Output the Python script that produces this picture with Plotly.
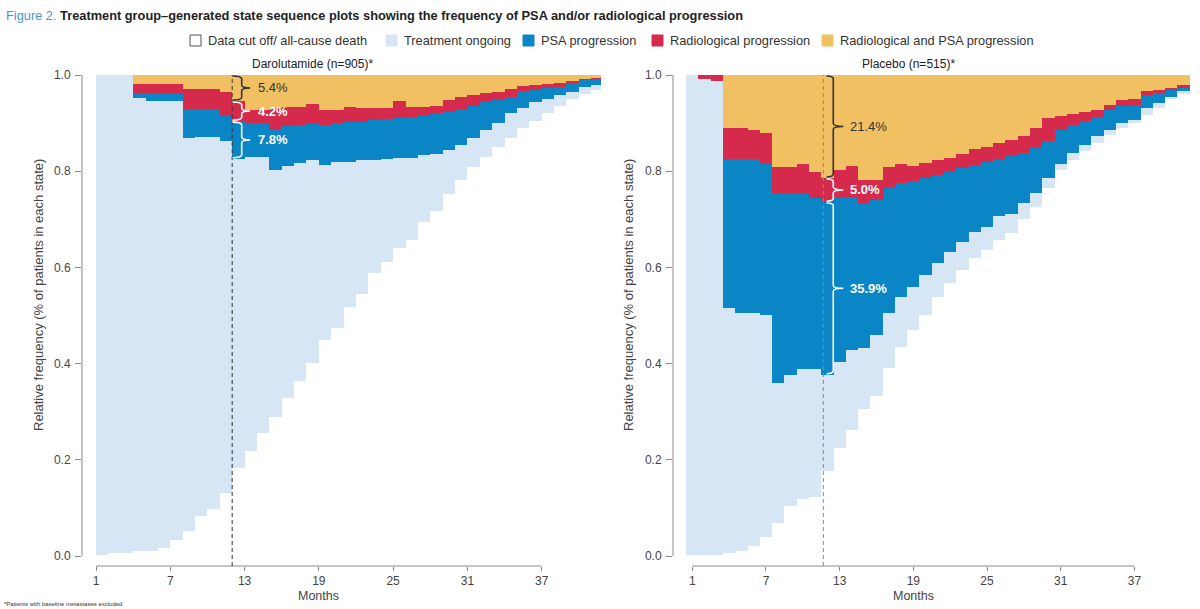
import plotly.graph_objects as go

# ---------------- data ----------------
months = list(range(1, 42))
state_names = ["Data cut off/ all-cause death", "Treatment ongoing", "PSA progression",
               "Radiological progression", "Radiological and PSA progression"]
state_colors = ["#ffffff", "#d6e6f4", "#0a86c7", "#d62a4c", "#f1c063"]
tick_months = [1, 7, 13, 19, 25, 31, 37]
y_ticks = [0.0, 0.2, 0.4, 0.6, 0.8, 1.0]

# Darolutamide (n=905): share of patients in each state per month
dar_cutoff = [0.002, 0.006, 0.006, 0.011, 0.011, 0.016, 0.033, 0.052, 0.084, 0.098, 0.132, 0.184,
              0.219, 0.255, 0.290, 0.329, 0.364, 0.401, 0.449, 0.473, 0.518, 0.544, 0.589, 0.612,
              0.640, 0.658, 0.694, 0.718, 0.752, 0.782, 0.809, 0.830, 0.850, 0.870, 0.890, 0.905,
              0.920, 0.935, 0.950, 0.960, 0.968]
dar_ongoing = [0.998, 0.994, 0.994, 0.942, 0.935, 0.930, 0.913, 0.817, 0.788, 0.774, 0.731, 0.642,
               0.611, 0.575, 0.512, 0.482, 0.454, 0.422, 0.364, 0.347, 0.302, 0.279, 0.234, 0.213,
               0.187, 0.169, 0.140, 0.118, 0.093, 0.073, 0.061, 0.055, 0.050, 0.050, 0.042, 0.038,
               0.030, 0.023, 0.015, 0.015, 0.012]
dar_psa = [0.0, 0.0, 0.0, 0.007, 0.014, 0.014, 0.014, 0.060, 0.057, 0.057, 0.052, 0.078,
           0.070, 0.070, 0.084, 0.082, 0.078, 0.077, 0.083, 0.080, 0.083, 0.080, 0.083, 0.083,
           0.083, 0.085, 0.081, 0.084, 0.079, 0.074, 0.066, 0.059, 0.047, 0.035, 0.034, 0.026,
           0.022, 0.017, 0.020, 0.015, 0.012]
dar_radio = [0.0, 0.0, 0.0, 0.022, 0.022, 0.022, 0.022, 0.042, 0.042, 0.042, 0.050, 0.042,
             0.027, 0.027, 0.045, 0.041, 0.038, 0.040, 0.031, 0.027, 0.031, 0.028, 0.025, 0.023,
             0.035, 0.022, 0.019, 0.016, 0.025, 0.025, 0.022, 0.018, 0.018, 0.015, 0.012, 0.011,
             0.010, 0.009, 0.002, 0.001, 0.001]
dar_both = [0.0, 0.0, 0.0, 0.018, 0.018, 0.018, 0.018, 0.029, 0.029, 0.029, 0.035, 0.054,
            0.073, 0.073, 0.069, 0.066, 0.066, 0.060, 0.073, 0.073, 0.066, 0.069, 0.069, 0.069,
            0.055, 0.066, 0.066, 0.064, 0.051, 0.046, 0.042, 0.038, 0.035, 0.030, 0.022, 0.020,
            0.018, 0.016, 0.013, 0.009, 0.007]

# Placebo (n=515)
pla_cutoff = [0.002, 0.002, 0.002, 0.006, 0.011, 0.021, 0.040, 0.068, 0.104, 0.118, 0.123, 0.177,
              0.224, 0.262, 0.305, 0.333, 0.391, 0.435, 0.470, 0.501, 0.539, 0.567, 0.595, 0.619,
              0.636, 0.657, 0.671, 0.700, 0.725, 0.765, 0.803, 0.824, 0.841, 0.859, 0.876, 0.890,
              0.900, 0.917, 0.932, 0.952, 0.962]
pla_ongoing = [0.998, 0.990, 0.985, 0.509, 0.495, 0.485, 0.461, 0.292, 0.272, 0.270, 0.265, 0.200,
               0.180, 0.166, 0.127, 0.126, 0.114, 0.103, 0.089, 0.083, 0.071, 0.064, 0.058, 0.055,
               0.049, 0.050, 0.041, 0.033, 0.030, 0.021, 0.011, 0.014, 0.014, 0.014, 0.010, 0.010,
               0.007, 0.014, 0.010, 0.002, 0.004]
pla_psa = [0.0, 0.0, 0.0, 0.310, 0.319, 0.319, 0.314, 0.394, 0.378, 0.366, 0.356, 0.359,
           0.340, 0.319, 0.301, 0.281, 0.263, 0.237, 0.221, 0.201, 0.182, 0.168, 0.154, 0.139,
           0.135, 0.119, 0.119, 0.104, 0.093, 0.076, 0.072, 0.059, 0.049, 0.039, 0.042, 0.035,
           0.031, 0.027, 0.020, 0.015, 0.007]
pla_radio = [0.0, 0.008, 0.013, 0.064, 0.064, 0.061, 0.064, 0.055, 0.055, 0.061, 0.055, 0.050,
             0.058, 0.064, 0.049, 0.042, 0.040, 0.040, 0.031, 0.033, 0.031, 0.029, 0.029, 0.033,
             0.031, 0.032, 0.034, 0.036, 0.041, 0.048, 0.029, 0.022, 0.020, 0.016, 0.009, 0.012,
             0.012, 0.008, 0.006, 0.004, 0.006]
pla_both = [0.0, 0.0, 0.0, 0.111, 0.111, 0.114, 0.121, 0.191, 0.191, 0.185, 0.201, 0.214,
            0.198, 0.189, 0.218, 0.218, 0.192, 0.185, 0.189, 0.182, 0.177, 0.172, 0.164, 0.154,
            0.149, 0.142, 0.135, 0.127, 0.111, 0.090, 0.085, 0.081, 0.076, 0.072, 0.063, 0.053,
            0.050, 0.034, 0.032, 0.027, 0.021]

cut_month = 12
dar_cut_pct = [5.4, 4.2, 7.8]     # both, radiological, PSA at month 12
pla_cut_pct = [21.4, 5.0, 35.9]

# ---------------- figure ----------------
W, H = 1200, 609
FONT = "Liberation Sans, Arial, Helvetica, sans-serif"


def px(x):
    return x / W


def py(y):
    return 1 - y / H


fig = go.Figure()

panels = [
    dict(ax="x", ay="y", offset=0, series=[dar_cutoff, dar_ongoing, dar_psa, dar_radio, dar_both]),
    dict(ax="x2", ay="y2", offset=-0.5, series=[pla_cutoff, pla_ongoing, pla_psa, pla_radio, pla_both]),
]
for p in panels:
    for name, col, vals in zip(state_names, state_colors, p["series"]):
        fig.add_trace(go.Bar(x=months, y=vals, name=name, width=1, offset=p["offset"],
                             marker=dict(color=col, line=dict(width=0)),
                             xaxis=p["ax"], yaxis=p["ay"], showlegend=False,
                             hoverinfo="skip"))

y_range = [-(566 - 556) / 481, 1.0]
y_dom = [py(566), py(75)]
common_x = dict(showgrid=False, zeroline=False, showline=False, ticks="outside", ticklen=4,
                tickcolor="#8a8a8a", tickwidth=1, tickvals=tick_months,
                tickfont=dict(family=FONT, size=12, color="#444"))
common_y = dict(showgrid=False, zeroline=False, showline=False, ticks="outside", ticklen=6,
                tickcolor="#8a8a8a", tickwidth=1, tickvals=y_ticks,
                ticktext=[f"{v:.1f}" for v in y_ticks], range=y_range, domain=y_dom,
                tickfont=dict(family=FONT, size=12, color="#444"), ticklabelstandoff=2)

fig.update_layout(
    width=W, height=H, margin=dict(l=0, r=0, t=0, b=0, autoexpand=False),
    paper_bgcolor="white", plot_bgcolor="white",
    barmode="stack", bargap=0, showlegend=False,
    xaxis=dict(domain=[px(82), px(601)], range=[1 - 14 / 12.38, 1 + 505 / 12.38], anchor="y", **common_x),
    yaxis=dict(anchor="x", **common_y),
    xaxis2=dict(domain=[px(673), px(1191)], range=[1 - 19.3 / 12.28, 1 + 498.7 / 12.28], anchor="y2", **common_x),
    yaxis2=dict(anchor="x2", **common_y),
    font=dict(family=FONT),
)

shapes = []
annots = []
axis_col = "#8a8a8a"
for ax, ay in [("x", "y"), ("x2", "y2")]:
    # detached axis lines
    shapes.append(dict(type="line", xref=ax, yref=f"{ay} domain", x0=tick_months[0], x1=tick_months[-1],
                       y0=0, y1=0, line=dict(color=axis_col, width=1)))
    shapes.append(dict(type="line", xref=f"{ax} domain", yref=ay, x0=0, x1=0, y0=0, y1=1,
                       line=dict(color=axis_col, width=1)))

# dashed month-12 lines
shapes.append(dict(type="line", xref="x", yref="y domain", x0=cut_month, x1=cut_month, y0=0, y1=1,
                   line=dict(color="#333", width=1, dash="4px,3px")))
shapes.append(dict(type="line", xref="x2", yref="y2 domain", x0=cut_month - 0.33, x1=cut_month - 0.33,
                   y0=0, y1=1, line=dict(color="#8a8a8a", width=1, dash="4px,3px")))


def brace(x0, x1, x2, ylo, yhi, dy):
    ym = (ylo + yhi) / 2
    return (f"M{x0},{yhi} Q{x1},{yhi} {x1},{yhi - dy} L{x1},{ym + dy} Q{x1},{ym} {x2},{ym} "
            f"Q{x1},{ym} {x1},{ym - dy} L{x1},{ylo + dy} Q{x1},{ylo} {x0},{ylo}")


def add_braces(ax, ay, idx, series, pcts, xs):
    b2 = series[0][idx] + series[1][idx]
    b3 = b2 + series[2][idx]
    b4 = b3 + series[3][idx]
    segs = [(b4, 1.0), (b3, b4), (b2, b3)]
    cols = ["#333333", "#ffffff", "#ffffff"]
    x0, x1, x2, xt = xs
    for (lo, hi), c, pct in zip(segs, cols, pcts):
        shapes.append(dict(type="path", xref=ax, yref=ay,
                           path=brace(x0, x1, x2, lo + 0.002, hi - 0.002, 0.006),
                           line=dict(color=c, width=1.6)))
        txt = f"{pct:.1f}%" if c != "#ffffff" else f"<b>{pct:.1f}%</b>"
        annots.append(dict(xref=ax, yref=ay, x=xt, y=(lo + hi) / 2, text=txt, showarrow=False,
                           xanchor="left", yanchor="middle",
                           font=dict(family=FONT, size=13, color=c)))


add_braces("x", "y", cut_month - 1, panels[0]["series"], dar_cut_pct, (12.02, 12.77, 13.45, 13.95))
add_braces("x2", "y2", cut_month - 1, panels[1]["series"], pla_cut_pct, (11.94, 12.48, 13.3, 13.67))


def label(x, y, text, size, color="#333", xanchor="center", angle=0):
    annots.append(dict(xref="paper", yref="paper", x=px(x), y=py(y), text=text, showarrow=False,
                       xanchor=xanchor, yanchor="middle", textangle=angle,
                       font=dict(family=FONT, size=size, color=color)))


# panel titles and axis titles
label(312, 64, "Darolutamide (n=905)*", 12, "#222")
label(909, 64, "Placebo (n=515)*", 12, "#222")
for xc in [318.5, 913]:
    label(xc, 596, "Months", 12.5, "#444")
for xc in [38, 628]:
    label(xc, 295, "Relative frequency (% of patients in each state)", 13, "#444", angle=-90)

# figure title
label(4, 16, "<span style='color:#3d9bd6'>Figure 2.</span> <b>Treatment group\u2013generated state "
             "sequence plots showing the frequency of PSA and/or radiological progression</b>",
      12.8, "#222", xanchor="left")

# legend (swatches + labels)
swatch_x = [190, 386, 523, 652, 822]
for sx, name, col in zip(swatch_x, state_names, state_colors):
    shapes.append(dict(type="rect", xref="paper", yref="paper", x0=px(sx), x1=px(sx + 11),
                       y0=py(46), y1=py(35), fillcolor=col,
                       line=dict(color="#555" if col == "#ffffff" else col, width=1)))
    label(sx + 16, 40.5, name, 12.8, "#333", xanchor="left")

# footnote
label(2, 604, "*Patients with baseline metastases excluded", 6, "#333", xanchor="left")

fig.update_layout(shapes=shapes, annotations=annots)
fig.write_html("out.html")
